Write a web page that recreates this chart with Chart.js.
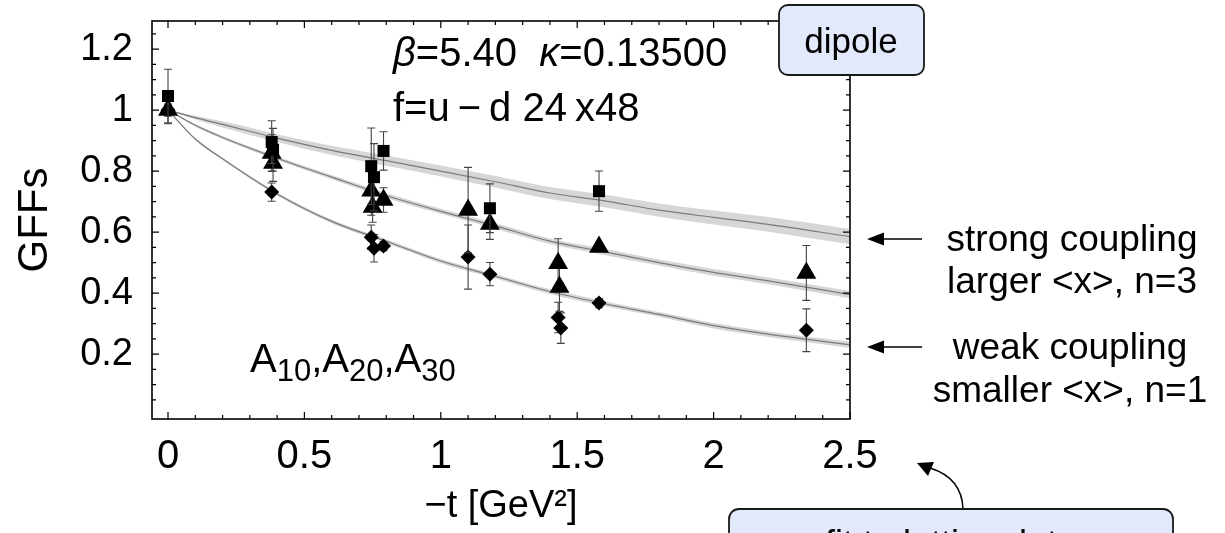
<!DOCTYPE html>
<html>
<head>
<meta charset="utf-8">
<script src="https://cdn.jsdelivr.net/npm/chart.js@4.4.1/dist/chart.umd.min.js"></script>
<style>
  html, body { margin: 0; padding: 0; background: #fff; }
  #wrap { width: 1225px; height: 533px; }
</style>
</head>
<body>
<div id="wrap"><canvas id="gffChart" width="1225" height="533"></canvas></div>
<script>
// lattice points: -t [GeV^2], value, error
const sqT   = [0, 0.38, 0.385, 0.745, 0.755, 0.79, 1.18, 1.58];
const sqVal = [1.046, 0.895, 0.87, 0.816, 0.78, 0.866, 0.678, 0.734];
const sqErr = [0.088, 0.07, 0.07, 0.125, 0.11, 0.063, 0.08, 0.066];

const triT   = [0, 0.38, 0.385, 0.745, 0.75, 0.79, 1.1, 1.18, 1.43, 1.435, 1.58, 2.34];
const triVal = [1.0, 0.859, 0.826, 0.735, 0.682, 0.705, 0.672, 0.626, 0.498, 0.42, 0.551, 0.466];
const triErr = [0.045, 0.06, 0.06, 0.08, 0.05, 0.04, 0.14, 0.05, 0.08, 0.08, 0.012, 0.09];

const diaT   = [0, 0.38, 0.745, 0.755, 0.79, 1.1, 1.18, 1.43, 1.44, 1.58, 2.34];
const diaVal = [1.0, 0.731, 0.583, 0.547, 0.554, 0.518, 0.462, 0.32, 0.285, 0.367, 0.278];
const diaErr = [0.02, 0.03, 0.04, 0.045, 0.015, 0.105, 0.038, 0.05, 0.05, 0.015, 0.07];

// fit curves with their error bands (half widths)
const curveT     = [0, 0.1, 0.2, 0.4, 0.6, 0.8, 1.0, 1.2, 1.4, 1.6, 1.8, 2.0, 2.2, 2.5];
const strongFit  = [1.0, 0.975, 0.953, 0.908, 0.868, 0.834, 0.8, 0.765, 0.728, 0.702, 0.672, 0.648, 0.625, 0.585];
const strongBand = [0, 0.006, 0.01, 0.013, 0.015, 0.017, 0.018, 0.019, 0.02, 0.021, 0.022, 0.023, 0.024, 0.025];
const midFit     = [1.0, 0.95, 0.91, 0.842, 0.78, 0.72, 0.668, 0.62, 0.57, 0.535, 0.5, 0.468, 0.44, 0.395];
const midBand    = [0, 0.004, 0.005, 0.006, 0.007, 0.008, 0.008, 0.009, 0.009, 0.01, 0.01, 0.011, 0.011, 0.012];
const weakFit    = [1.0, 0.905, 0.84, 0.725, 0.635, 0.57, 0.505, 0.455, 0.405, 0.365, 0.33, 0.293, 0.265, 0.23];
const weakBand   = [0, 0.003, 0.004, 0.005, 0.006, 0.006, 0.007, 0.007, 0.008, 0.008, 0.008, 0.009, 0.009, 0.01];

const xTicks = [0, 0.5, 1, 1.5, 2, 2.5];
const xMinor = [0.1, 0.2, 0.3, 0.4, 0.6, 0.7, 0.8, 0.9, 1.1, 1.2, 1.3, 1.4, 1.6, 1.7, 1.8, 1.9, 2.1, 2.2, 2.3, 2.4];
const yTicks = [0.2, 0.4, 0.6, 0.8, 1, 1.2];
const yMinor = [0.05, 0.1, 0.15, 0.25, 0.3, 0.35, 0.45, 0.5, 0.55, 0.65, 0.7, 0.75, 0.85, 0.9, 0.95, 1.05, 1.1, 1.15, 1.25];

const FONT = "'Liberation Sans', Arial, sans-serif";

function pts(xs, ys) {
    return xs.map((x, i) => ({ x: x, y: ys[i] }));
}
function shifted(xs, ys, d, sign) {
    return xs.map((x, i) => ({ x: x, y: ys[i] + sign * d[i] }));
}

function bandSets(fit, band) {
    return [
        { data: shifted(curveT, fit, band, 1), showLine: true, pointRadius: 0, borderWidth: 0,
          cubicInterpolationMode: 'monotone', fill: false, order: 3 },
        { data: shifted(curveT, fit, band, -1), showLine: true, pointRadius: 0, borderWidth: 0,
          cubicInterpolationMode: 'monotone', fill: '-1', backgroundColor: '#d6d6d6', order: 3 },
        { data: pts(curveT, fit), showLine: true, pointRadius: 0, borderWidth: 1.2, borderColor: '#7a7a7a',
          cubicInterpolationMode: 'monotone', fill: false, order: 2 }
    ];
}

function markerSet(xs, ys, errs, style, r) {
    return { data: pts(xs, ys), errs: errs, showLine: false, pointStyle: style, pointRadius: r,
             backgroundColor: '#000', borderColor: '#000', borderWidth: 0, order: 1 };
}

function tickMarks(ctx, scale, vals, len, horiz, area) {
    vals.forEach(v => {
        const p = scale.getPixelForValue(v);
        ctx.beginPath();
        if (horiz) {
            ctx.moveTo(p, area.bottom); ctx.lineTo(p, area.bottom - len);
            ctx.moveTo(p, area.top); ctx.lineTo(p, area.top + len);
        } else {
            ctx.moveTo(area.left, p); ctx.lineTo(area.left + len, p);
            ctx.moveTo(area.right, p); ctx.lineTo(area.right - len, p);
        }
        ctx.stroke();
    });
}

function roundBox(ctx, x, y, w, h, r) {
    ctx.beginPath();
    ctx.roundRect(x, y, w, h, r);
    ctx.fillStyle = '#e1e9fb';
    ctx.fill();
    ctx.lineWidth = 1.8;
    ctx.strokeStyle = '#1a1a1a';
    ctx.stroke();
}

function arrow(ctx, x1, y, x2) {
    ctx.beginPath();
    ctx.moveTo(x1, y); ctx.lineTo(x2 + 10, y);
    ctx.lineWidth = 1.5; ctx.strokeStyle = '#000'; ctx.stroke();
    ctx.beginPath();
    ctx.moveTo(x2, y); ctx.lineTo(x2 + 17, y - 6.5); ctx.lineTo(x2 + 17, y + 6.5);
    ctx.closePath(); ctx.fillStyle = '#000'; ctx.fill();
}

const decor = {
    id: 'decor',
    beforeDatasetDraw(chart, args) {
        const ds = chart.data.datasets[args.index];
        if (!ds.errs) return;
        const ctx = chart.ctx, xs = chart.scales.x, ys = chart.scales.y;
        ctx.save();
        ctx.strokeStyle = '#444';
        ctx.lineWidth = 1.1;
        ds.data.forEach((p, i) => {
            const px = xs.getPixelForValue(p.x);
            const top = ys.getPixelForValue(p.y + ds.errs[i]);
            const bot = ys.getPixelForValue(p.y - ds.errs[i]);
            ctx.beginPath();
            ctx.moveTo(px, top); ctx.lineTo(px, bot);
            ctx.moveTo(px - 4, top); ctx.lineTo(px + 4, top);
            ctx.moveTo(px - 4, bot); ctx.lineTo(px + 4, bot);
            ctx.stroke();
        });
        ctx.restore();
    },
    afterDraw(chart) {
        const ctx = chart.ctx, a = chart.chartArea;
        ctx.save();
        // frame + inward ticks
        ctx.strokeStyle = '#000';
        ctx.lineWidth = 1.6;
        ctx.strokeRect(a.left, a.top, a.right - a.left, a.bottom - a.top);
        ctx.lineWidth = 1.2;
        tickMarks(ctx, chart.scales.x, xTicks, 7, true, a);
        tickMarks(ctx, chart.scales.x, xMinor, 4, true, a);
        tickMarks(ctx, chart.scales.y, yTicks, 7, false, a);
        tickMarks(ctx, chart.scales.y, yMinor, 4, false, a);

        ctx.fillStyle = '#000';
        ctx.textBaseline = 'alphabetic';
        ctx.textAlign = 'left';
        // run parameters
        let x = 393;
        ctx.font = 'italic 40px ' + FONT;
        ctx.fillText('\u03b2', x, 66); x += ctx.measureText('\u03b2').width;
        ctx.font = '40px ' + FONT;
        ctx.fillText('=5.40  ', x, 66); x += ctx.measureText('=5.40  ').width;
        ctx.font = 'italic 40px ' + FONT;
        ctx.fillText('\u03ba', x, 66); x += ctx.measureText('\u03ba').width;
        ctx.font = '40px ' + FONT;
        ctx.fillText('=0.13500', x, 66);
        ctx.fillText('f=u\u2009\u2212\u2009d 24\u2009x48', 393, 121);

        // A10,A20,A30
        x = 250;
        ['10', '20', '30'].forEach((s, i) => {
            ctx.font = '40px ' + FONT;
            ctx.fillText('A', x, 372); x += ctx.measureText('A').width;
            ctx.font = '31px ' + FONT;
            ctx.fillText(s, x, 381); x += ctx.measureText(s).width;
            if (i < 2) {
                ctx.font = '40px ' + FONT;
                ctx.fillText(',', x, 372); x += ctx.measureText(',').width;
            }
        });

        // dipole box
        roundBox(ctx, 779, 5, 145, 70, 9);
        ctx.fillStyle = '#000';
        ctx.textAlign = 'center';
        ctx.font = '35px ' + FONT;
        ctx.fillText('dipole', 851, 53);

        // side arrows and notes
        arrow(ctx, 922, 239, 867);
        arrow(ctx, 922, 347, 867);
        ctx.fillStyle = '#000';
        ctx.font = '37px ' + FONT;
        ctx.fillText('strong coupling', 1072, 251);
        ctx.fillText('larger <x>, n=3', 1072, 293);
        ctx.fillText('weak coupling', 1070, 359);
        ctx.fillText('smaller <x>, n=1', 1070, 402);

        // curved arrow to lower box
        ctx.beginPath();
        ctx.moveTo(963, 509);
        ctx.quadraticCurveTo(962, 478, 930, 468);
        ctx.lineWidth = 1.5; ctx.strokeStyle = '#000'; ctx.stroke();
        ctx.beginPath();
        ctx.moveTo(917, 463); ctx.lineTo(934, 462); ctx.lineTo(928, 476);
        ctx.closePath(); ctx.fillStyle = '#000'; ctx.fill();

        roundBox(ctx, 729, 509, 444, 60, 10);
        ctx.fillStyle = '#000';
        ctx.font = '36px ' + FONT;
        ctx.fillText('fit to lattice data', 951, 556);
        ctx.restore();
    }
};

const datasets = [
    markerSet(sqT, sqVal, sqErr, 'rect', 8.5),
    markerSet(triT, triVal, triErr, 'triangle', 11.5),
    markerSet(diaT, diaVal, diaErr, 'rectRot', 7.5)
].concat(bandSets(strongFit, strongBand), bandSets(midFit, midBand), bandSets(weakFit, weakBand));

new Chart(document.getElementById('gffChart'), {
    type: 'scatter',
    data: { datasets: datasets },
    options: {
        responsive: false,
        animation: false,
        layout: { padding: { left: 0, top: 21, right: 375, bottom: 0 } },
        plugins: { legend: { display: false }, tooltip: { enabled: false } },
        scales: {
            x: {
                type: 'linear', min: -0.0587, max: 2.5,
                afterBuildTicks: s => { s.ticks = xTicks.map(v => ({ value: v })); },
                afterFit: s => { s.height = 114; s.paddingLeft = 0; s.paddingRight = 0; },
                grid: { display: false, drawTicks: false },
                border: { display: false },
                ticks: { color: '#000', padding: 14, maxRotation: 0, autoSkip: false,
                         font: { family: FONT, size: 40 },
                         callback: v => String(+v.toFixed(1)) },
                title: { display: true, text: '\u2212t [GeV\u00b2]', color: '#000',
                         font: { family: FONT, size: 38 },
                         padding: { top: 0, bottom: 4 } }
            },
            y: {
                type: 'linear', min: -0.013, max: 1.292,
                afterBuildTicks: s => { s.ticks = yTicks.map(v => ({ value: v })); },
                afterFit: s => { s.width = 152; s.paddingTop = 0; s.paddingBottom = 0; },
                grid: { display: false, drawTicks: false },
                border: { display: false },
                ticks: { color: '#000', padding: 19, autoSkip: false,
                         font: { family: FONT, size: 38 },
                         callback: v => String(+v.toFixed(1)) },
                title: { display: true, text: 'GFFs', color: '#000',
                         font: { family: FONT, size: 42 }, padding: { top: 10, bottom: 0 } }
            }
        }
    },
    plugins: [decor]
});
</script>
</body>
</html>
